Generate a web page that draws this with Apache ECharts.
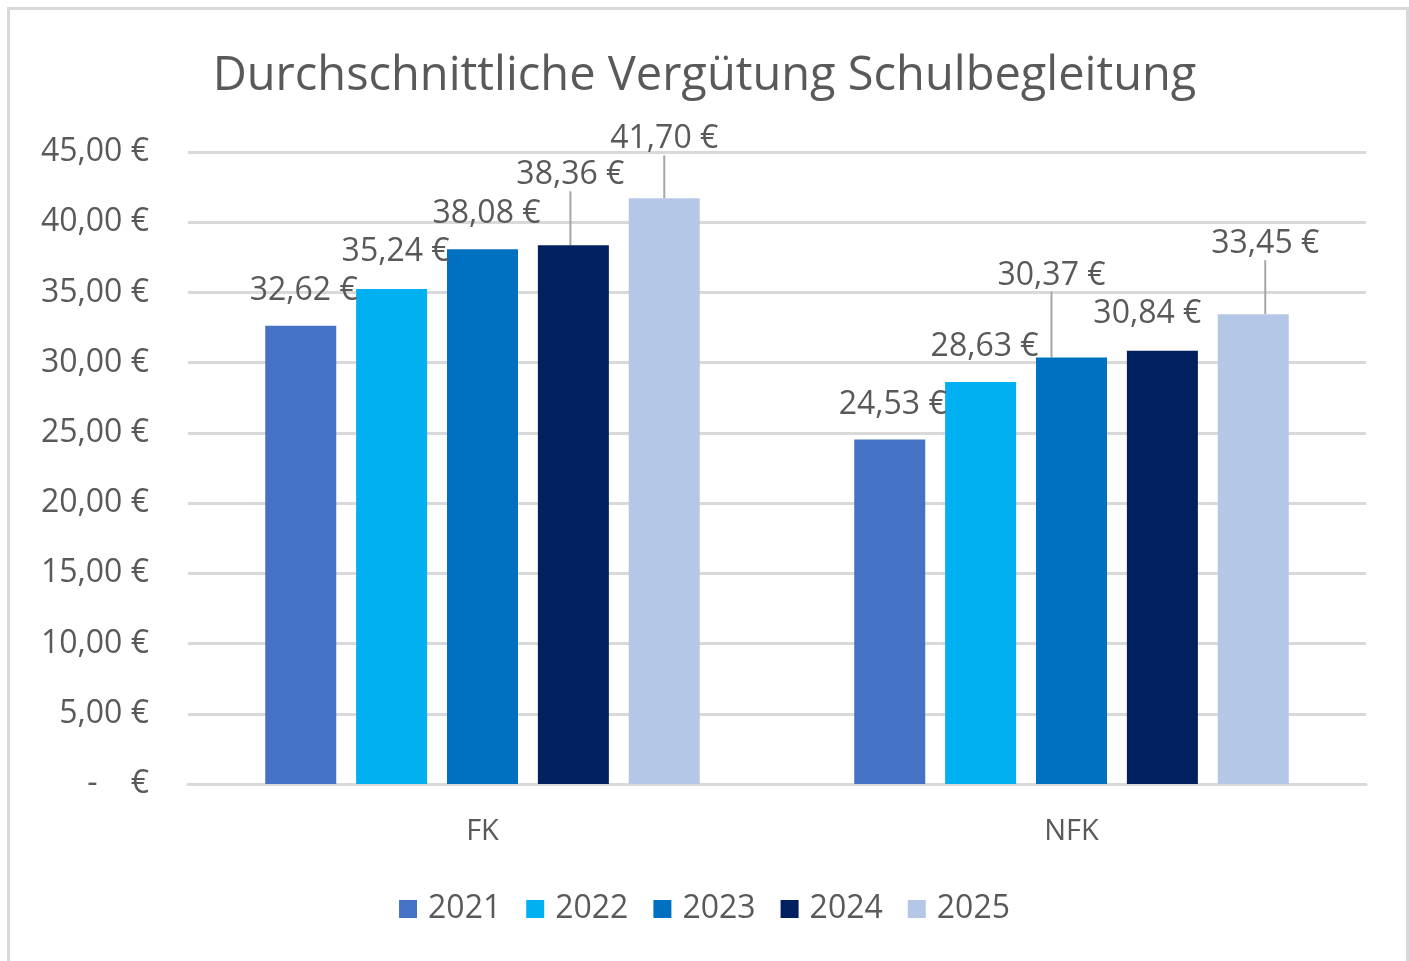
<!DOCTYPE html>
<html>
<head>
<meta charset="utf-8">
<script src="https://cdn.jsdelivr.net/npm/echarts@6/dist/echarts.min.js"></script>
<style>
  html, body { margin: 0; padding: 0; background: #fff; }
  #chart { width: 1409px; height: 961px; }
</style>
</head>
<body>
<div id="chart"></div>
<script>
// Daten
const categories = ['FK', 'NFK'];
const years = ['2021', '2022', '2023', '2024', '2025'];
const v2021 = [32.62, 24.53];
const v2022 = [35.24, 28.63];
const v2023 = [38.08, 30.37];
const v2024 = [38.36, 30.84];
const v2025 = [41.70, 33.45];
const yTicks = [0, 5, 10, 15, 20, 25, 30, 35, 40, 45];

const colors = ['#4472C4', '#00B0F0', '#0070C0', '#002060', '#B4C7E7'];
const FONT = '"Open Sans", sans-serif';

// verschobene Datenbeschriftungen wie im Original (dx, dy je Serie/Kategorie)
const labelShift = [
  [[3, -14], [3, -14]],
  [[4, -16], [4, -14]],
  [[4, -14], [-20, -61]],
  [[-3, -49], [-15, -16]],
  [[0, -38], [12, -49]]
];
// welche Beschriftungen eine Führungslinie haben
const withLine = [
  [false, false],
  [false, false],
  [false, true],
  [true, false],
  [true, true]
];

const euro = v => v.toFixed(2).replace('.', ',') + ' €';

const seriesValues = [v2021, v2022, v2023, v2024, v2025];

const myChart = echarts.init(document.getElementById('chart'));

const series = seriesValues.map((vals, s) => ({
  name: years[s],
  type: 'bar',
  barWidth: 71,
  barGap: '28%',
  itemStyle: { color: colors[s] },
  label: {
    show: true,
    position: 'top',
    distance: 5,
    fontFamily: FONT,
    fontSize: 32,
    color: '#595959',
    formatter: p => euro(p.value)
  },
  labelLine: { show: false },
  labelLayout: p => ({ dx: labelShift[s][p.dataIndex][0], dy: labelShift[s][p.dataIndex][1] }),
  data: vals.map((v, i) => ({
    value: v,
    labelLine: withLine[s][i]
      ? { show: true, lineStyle: { color: '#a6a6a6', width: 2 } }
      : { show: false }
  }))
}));

const option = {
  backgroundColor: '#fff',
  animation: false,
  color: colors,
  title: {
    text: 'Durchschnittliche Vergütung Schulbegleitung',
    left: 'center',
    top: 48,
    textStyle: { fontFamily: FONT, fontSize: 47, fontWeight: 'normal', color: '#595959' }
  },
  legend: {
    data: years,
    left: 'center',
    top: 888,
    itemWidth: 18,
    itemHeight: 18,
    itemGap: 25,
    icon: 'rect',
    textStyle: { fontFamily: FONT, fontSize: 32, color: '#595959', padding: [0, 0, 0, 6] }
  },
  grid: { left: 188, right: 43, top: 152, bottom: 177 },
  xAxis: {
    type: 'category',
    data: categories,
    axisLine: { lineStyle: { color: '#d9d9d9', width: 3 } },
    axisTick: { show: false },
    axisLabel: { fontFamily: FONT, fontSize: 29, color: '#595959', margin: 33 }
  },
  yAxis: {
    type: 'value',
    min: yTicks[0],
    max: yTicks[yTicks.length - 1],
    interval: 5,
    axisLine: { show: false },
    axisTick: { show: false },
    splitLine: { lineStyle: { color: '#d9d9d9', width: 3 } },
    axisLabel: {
      fontFamily: FONT,
      fontSize: 32,
      color: '#595959',
      margin: 39,
      formatter: v => (v === 0 ? '-    €' : euro(v))
    }
  },
  graphic: [{
    type: 'rect',
    shape: { x: 8.5, y: 8.5, width: 1399, height: 970 },
    style: { fill: null, stroke: '#d9d9d9', lineWidth: 3 },
    silent: true,
    z: -1
  }],
  series: series
};

myChart.setOption(option);
</script>
</body>
</html>
